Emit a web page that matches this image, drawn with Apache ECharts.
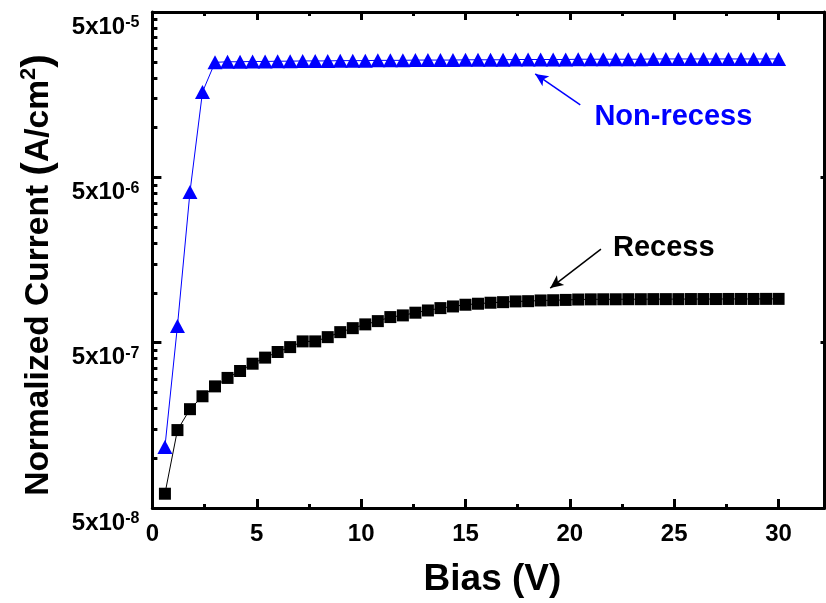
<!DOCTYPE html>
<html>
<head>
<meta charset="utf-8">
<title>Normalized Current vs Bias</title>
<script src="https://cdn.jsdelivr.net/npm/echarts@6/dist/echarts.min.js"></script>
<style>
  html, body { margin: 0; padding: 0; background: #ffffff; }
  #chart { width: 826px; height: 603px; }
</style>
</head>
<body>
<div id="chart"></div>
<script>
// Bias sweep (V)
const bias = [0.6, 1.2, 1.8, 2.4, 3.0, 3.6, 4.2, 4.8, 5.4, 6.0,
              6.6, 7.2, 7.8, 8.4, 9.0, 9.6, 10.2, 10.8, 11.4, 12.0,
              12.6, 13.2, 13.8, 14.4, 15.0, 15.6, 16.2, 16.8, 17.4, 18.0,
              18.6, 19.2, 19.8, 20.4, 21.0, 21.6, 22.2, 22.8, 23.4, 24.0,
              24.6, 25.2, 25.8, 26.4, 27.0, 27.6, 28.2, 28.8, 29.4, 30.0];

// Normalized current (A/cm^2), recessed device
const recess = [6.1e-8, 1.48e-7, 1.98e-7, 2.37e-7, 2.72e-7, 3.06e-7, 3.37e-7, 3.73e-7, 4.06e-7, 4.39e-7,
                4.70e-7, 5.09e-7, 5.09e-7, 5.40e-7, 5.79e-7, 6.12e-7, 6.45e-7, 6.75e-7, 7.14e-7, 7.31e-7,
                7.59e-7, 7.83e-7, 8.09e-7, 8.28e-7, 8.48e-7, 8.60e-7, 8.72e-7, 8.79e-7, 8.88e-7, 8.91e-7,
                9.00e-7, 9.03e-7, 9.07e-7, 9.12e-7, 9.14e-7, 9.15e-7, 9.15e-7, 9.16e-7, 9.16e-7, 9.17e-7,
                9.17e-7, 9.17e-7, 9.18e-7, 9.18e-7, 9.18e-7, 9.19e-7, 9.19e-7, 9.19e-7, 9.20e-7, 9.20e-7];

// Normalized current (A/cm^2), non-recessed device
const nonRecess = [1.17e-7, 6.31e-7, 4.08e-6, 1.64e-5, 2.48e-5, 2.50e-5, 2.50e-5, 2.51e-5, 2.51e-5, 2.52e-5,
                   2.52e-5, 2.53e-5, 2.53e-5, 2.53e-5, 2.54e-5, 2.54e-5, 2.54e-5, 2.55e-5, 2.55e-5, 2.55e-5,
                   2.56e-5, 2.56e-5, 2.56e-5, 2.56e-5, 2.57e-5, 2.57e-5, 2.57e-5, 2.57e-5, 2.58e-5, 2.58e-5,
                   2.58e-5, 2.58e-5, 2.58e-5, 2.59e-5, 2.59e-5, 2.59e-5, 2.59e-5, 2.59e-5, 2.59e-5, 2.60e-5,
                   2.60e-5, 2.60e-5, 2.60e-5, 2.60e-5, 2.60e-5, 2.60e-5, 2.60e-5, 2.60e-5, 2.60e-5, 2.60e-5];

// Axis ticks and labels
const xMajorTicks = [0, 5, 10, 15, 20, 25, 30];
const xMinorTicks = [2.5, 7.5, 12.5, 17.5, 22.5, 27.5];
const yMajorTicks = [5e-8, 5e-7, 5e-6, 5e-5];
const yTickExponents = ['-8', '-7', '-6', '-5'];
const yRightTicks = [5e-7, 5e-6];

// Minor ticks at 2..9 times each 5x10^n step
const yMinorTicks = [];
[5e-8, 5e-7, 5e-6].forEach(function (base) {
  for (let m = 2; m <= 9; m++) yMinorTicks.push(+(base * m).toPrecision(3));
});

const FONT = "'Liberation Sans', Arial, Helvetica, sans-serif";
const BLUE = '#0000ff';
const X_MIN = 0, X_MAX = 32.2;
const Y_MIN = 5e-8, Y_MAX = 5e-5;

function xAxisDef(position, ticks, len, showLine, showLabels) {
  return {
    type: 'value', position: position, min: X_MIN, max: X_MAX,
    splitLine: { show: false },
    axisLine: { show: showLine, onZero: false, lineStyle: { color: '#000', width: 3 } },
    axisTick: { show: true, inside: true, length: len, customValues: ticks,
                lineStyle: { color: '#000', width: 3 } },
    axisLabel: showLabels ? {
      show: true, customValues: xMajorTicks, margin: 14,
      color: '#000', fontFamily: FONT, fontWeight: 'bold', fontSize: 24
    } : { show: false }
  };
}

function yAxisDef(position, ticks, len, showLine) {
  return {
    type: 'log', logBase: 10, position: position, min: Y_MIN, max: Y_MAX,
    splitLine: { show: false },
    axisLine: { show: showLine, onZero: false, lineStyle: { color: '#000', width: 3 } },
    axisTick: { show: true, inside: true, length: len, customValues: ticks,
                lineStyle: { color: '#000', width: 3 } },
    axisLabel: { show: false }
  };
}

const yMain = yAxisDef('left', yMajorTicks, 9, true);
yMain.axisLabel = {
  show: true, customValues: yMajorTicks, margin: 13,
  padding: [30, 0, 0, 0],
  formatter: function (v) {
    let i = 0, best = Infinity;
    yMajorTicks.forEach(function (t, k) {
      const d = Math.abs(Math.log10(v) - Math.log10(t));
      if (d < best) { best = d; i = k; }
    });
    return '{b|5x10}{s|' + yTickExponents[i] + '}';
  },
  rich: {
    b: { fontFamily: FONT, fontWeight: 'bold', fontSize: 24, color: '#000', verticalAlign: 'bottom' },
    s: { fontFamily: FONT, fontWeight: 'bold', fontSize: 16, color: '#000', verticalAlign: 'top' }
  }
};
yMain.name = '{t|Normalized Current }{p|(}{t|A/cm}{u|2}{p|)}';
yMain.nameLocation = 'middle';
yMain.nameRotate = 90;
yMain.nameGap = 93;
yMain.nameTextStyle = {
  padding: [0, 30, 0, 0],
  rich: {
    t: { fontFamily: FONT, fontWeight: 'bold', fontSize: 33.5, color: '#000' },
    p: { fontFamily: FONT, fontWeight: 'bold', fontSize: 41, color: '#000' },
    u: { fontFamily: FONT, fontWeight: 'bold', fontSize: 22, color: '#000', verticalAlign: 'top' }
  }
};

const xMain = xAxisDef('bottom', xMajorTicks, 9, true, true);
xMain.name = 'Bias (V)';
xMain.nameLocation = 'middle';
xMain.nameGap = 53;
xMain.nameTextStyle = { fontFamily: FONT, fontWeight: 'bold', fontSize: 37, color: '#000',
                        padding: [0, 0, 0, 8] };

const chart = echarts.init(document.getElementById('chart'), null, { renderer: 'canvas' });

chart.setOption({
  animation: false,
  backgroundColor: '#ffffff',
  grid: { left: 152.4, right: 1.5, top: 12, bottom: 95, containLabel: false, outerBoundsMode: 'none' },
  xAxis: [
    xMain,
    xAxisDef('bottom', xMinorTicks, 4, false, false),
    xAxisDef('top', xMajorTicks, 8, true, false),
    xAxisDef('top', xMinorTicks, 4, false, false)
  ],
  yAxis: [
    yMain,
    yAxisDef('left', yMinorTicks, 5, false),
    yAxisDef('right', yRightTicks, 4, true)
  ],
  series: [
    {
      name: 'Non-recess', type: 'line',
      data: bias.map(function (x, i) { return [x, nonRecess[i]]; }),
      symbol: 'triangle', symbolSize: [15, 14],
      itemStyle: { color: BLUE },
      lineStyle: { color: BLUE, width: 1 },
      z: 3,
      markLine: {
        silent: true, animation: false,
        symbol: ['none', 'arrow'], symbolSize: [9, 13],
        lineStyle: { color: BLUE, width: 1.5, type: 'solid' },
        label: { show: false },
        data: [[{ coord: [20.5, 1.37e-5] }, { coord: [18.34, 2.11e-5] }]]
      },
      markPoint: {
        silent: true, animation: false,
        symbol: 'rect', symbolSize: 1,
        itemStyle: { color: 'rgba(0,0,0,0)' },
        label: { show: true, position: 'inside', formatter: 'Non-recess',
                 color: BLUE, fontFamily: FONT, fontWeight: 'bold', fontSize: 29 },
        data: [{ coord: [24.96, 1.16e-5] }]
      }
    },
    {
      name: 'Recess', type: 'line',
      data: bias.map(function (x, i) { return [x, recess[i]]; }),
      symbol: 'rect', symbolSize: 12,
      itemStyle: { color: '#000' },
      lineStyle: { color: '#000', width: 1 },
      z: 4,
      markLine: {
        silent: true, animation: false,
        symbol: ['none', 'arrow'], symbolSize: [9, 13],
        lineStyle: { color: '#000', width: 1.5, type: 'solid' },
        label: { show: false },
        data: [[{ coord: [21.49, 1.84e-6] }, { coord: [19.06, 1.07e-6] }]]
      },
      markPoint: {
        silent: true, animation: false,
        symbol: 'rect', symbolSize: 1,
        itemStyle: { color: 'rgba(0,0,0,0)' },
        label: { show: true, position: 'inside', formatter: 'Recess',
                 color: '#000', fontFamily: FONT, fontWeight: 'bold', fontSize: 29 },
        data: [{ coord: [24.5, 1.87e-6] }]
      }
    }
  ]
});
</script>
</body>
</html>
